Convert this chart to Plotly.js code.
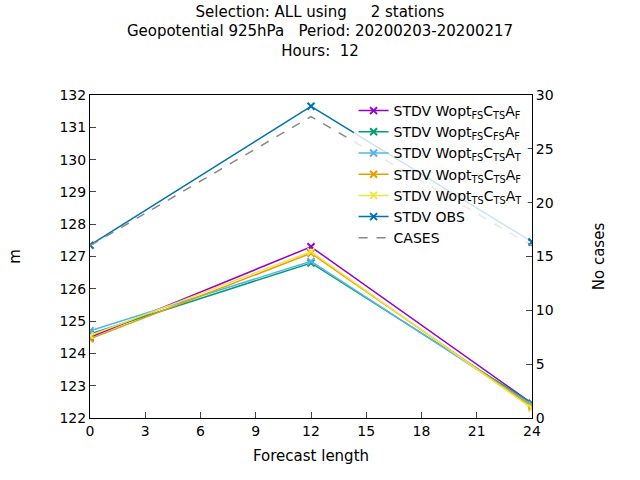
<!DOCTYPE html>
<html>
<head>
<script src="https://cdn.plot.ly/plotly-3.0.1.min.js"></script>
<style>body{margin:0}</style>
</head>
<body>
<div id="chart" style="width:640px;height:480px"></div>
<script>
// Forecast lengths (hours)
const leadTimes = [0, 12, 24];

const seriesNames = [
    'STDV Wopt<sub>FS</sub>C<sub>TS</sub>A<sub>F</sub>',
    'STDV Wopt<sub>FS</sub>C<sub>FS</sub>A<sub>F</sub>',
    'STDV Wopt<sub>FS</sub>C<sub>TS</sub>A<sub>T</sub>',
    'STDV Wopt<sub>TS</sub>C<sub>TS</sub>A<sub>F</sub>',
    'STDV Wopt<sub>TS</sub>C<sub>TS</sub>A<sub>T</sub>',
    'STDV OBS'
];
const seriesColors = ['#9400d3', '#009e73', '#56b4e9', '#e69f00', '#f0e442', '#0072b2'];

const woptFsCtsAf = [124.5, 127.3, 122.45];
const woptFsCfsAf = [124.6, 126.8, 122.45];
const woptFsCtsAt = [124.7, 126.85, 122.4];
const woptTsCtsAf = [124.45, 127.1, 122.35];
const woptTsCtsAt = [124.55, 127.15, 122.3];
const stdvObs = [127.35, 131.65, 127.45];
const cases = [16, 28, 16];

const seriesValues = [woptFsCtsAf, woptFsCfsAf, woptFsCtsAt, woptTsCtsAf, woptTsCtsAt, stdvObs];

const traces = seriesValues.map((vals, i) => ({
    x: leadTimes,
    y: vals,
    name: seriesNames[i],
    mode: 'lines+markers',
    line: {color: seriesColors[i], width: 1.5},
    marker: {symbol: 'x-thin', size: 7, color: seriesColors[i], line: {color: seriesColors[i], width: 2}}
}));

traces.push({
    x: leadTimes,
    y: cases,
    name: 'CASES',
    yaxis: 'y2',
    mode: 'lines',
    line: {color: '#888888', width: 1.5, dash: 'dash'}
});

const axisCommon = {
    showgrid: false, zeroline: false, showline: true, mirror: true,
    linecolor: '#000', linewidth: 1, ticks: 'inside', ticklen: 6,
    tickfont: {size: 14, color: '#000'}
};

const layout = {
    width: 640, height: 480,
    font: {family: 'DejaVu Sans', color: '#000'},
    title: {
        text: 'Selection: ALL using     2 stations<br>Geopotential 925hPa   Period: 20200203-20200217<br>Hours:  12',
        font: {size: 15}, x: 0.5, y: 0.965, yanchor: 'top'
    },
    margin: {l: 90, r: 108, t: 95, b: 62},
    showlegend: true,
    legend: {
        x: 0.99, y: 1.0, xanchor: 'right', yanchor: 'top',
        bgcolor: 'rgba(255,255,255,0.8)', font: {size: 14}, tracegroupgap: 0
    },
    xaxis: Object.assign({}, axisCommon, {
        range: [0, 24], tickvals: [0, 3, 6, 9, 12, 15, 18, 21, 24],
        title: {text: 'Forecast length', font: {size: 15}, standoff: 12}
    }),
    yaxis: Object.assign({}, axisCommon, {
        range: [122, 132], dtick: 1,
        title: {text: 'm', font: {size: 15}, standoff: 35}
    }),
    yaxis2: Object.assign({}, axisCommon, {
        overlaying: 'y', side: 'right', range: [0, 30], dtick: 5, mirror: false,
        title: {text: 'No cases', font: {size: 15}, standoff: 40}
    }),
    plot_bgcolor: '#fff', paper_bgcolor: '#fff'
};

Plotly.newPlot('chart', traces, layout, {displayModeBar: false});
</script>
</body>
</html>
